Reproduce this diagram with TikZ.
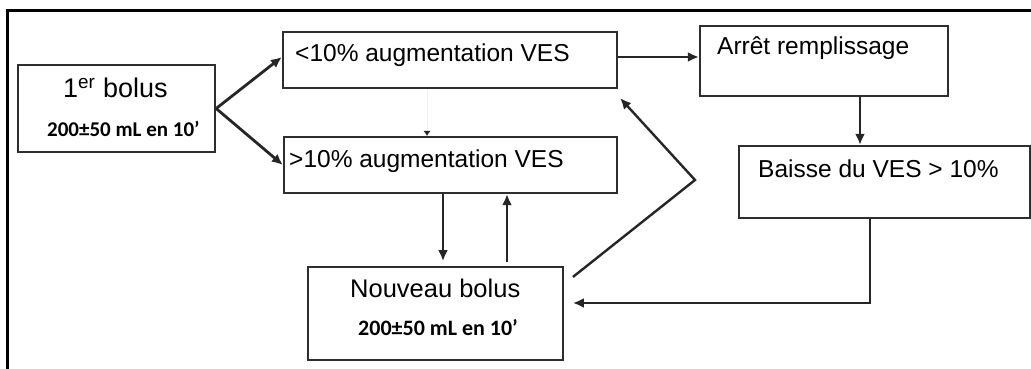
\documentclass[tikz,border=0pt]{standalone}
\usepackage{fontspec}
\setmainfont{Liberation Sans}
\newfontfamily\carl{Carlito}
\usetikzlibrary{arrows.meta}
\definecolor{boxc}{HTML}{2E2E2E}
\definecolor{arrc}{HTML}{262626}
\begin{document}
\begin{tikzpicture}[x=1pt,y=-1pt,
  box/.style={draw=boxc, line width=2.3pt, inner sep=0pt},
  txt/.style={anchor=base west, inner sep=0pt, text=black, font=\fontsize{24.5}{28}\selectfont},
  small/.style={anchor=base west, inner sep=0pt, text=black, font=\carl\bfseries\fontsize{21}{24}\selectfont},
  arr/.style={draw=arrc, line width=2.8pt, -{Latex[length=11pt,width=10pt]}}]
\useasboundingbox (0,0) rectangle (1031,369);
\draw[line width=3pt] (7.5,369) -- (7.5,10.5) -- (1031,10.5);
% boxes
\node[box, minimum width=197pt, minimum height=87pt] (b1) at (116.5,108.5) {};
\node[box, minimum width=334pt, minimum height=56pt] (lt) at (450,60) {};
\node[box, minimum width=333pt, minimum height=56pt] (gt) at (450.5,165) {};
\node[box, minimum width=248pt, minimum height=70pt] (ar) at (824,61) {};
\node[box, minimum width=291pt, minimum height=72pt] (ba) at (884.5,182) {};
\node[box, line width=1.8pt, minimum width=255pt, minimum height=93pt] (nb) at (435.5,313.5) {};
% texts
\node[txt, font=\fontsize{27}{30}\selectfont] (t1) at (63,98) {1\textsuperscript{er} bolus};
\node[small] (t1b) at (47,136) {200±50 mL en 10’};
\node[txt] (tlt) at (295,62) {<10\% augmentation VES};
\node[txt] (tgt) at (289,167) {>10\% augmentation VES};
\node[txt] (tar) at (717,55) {Arrêt remplissage};
\node[txt] (tba) at (758,177) {Baisse du VES > 10\%};
\node[txt, font=\fontsize{25.5}{28}\selectfont] (tnb) at (350,297) {Nouveau bolus};
\node[small, font=\carl\bfseries\fontsize{22}{24}\selectfont] (tnbb) at (358,335) {200±50 mL en 10’};
% connectors
\draw[arr] (b1.east) -- ([yshift=3pt]lt.west);
\draw[arr] (b1.east) -- (gt.west);
\draw[arr] ([yshift=3pt]lt.east) -- ([yshift=4pt]ar.west);
\draw[arr] ([xshift=36pt]ar.south) -- ([xshift=-24.5pt]ba.north);
\draw[arr] ([xshift=-14.5pt]ba.south) |- ([xshift=9pt,yshift=10.5pt]nb.east);
\draw[arr] ([xshift=-7.5pt]gt.south) -- ([xshift=7.5pt,yshift=5pt]nb.north);
\draw[arr] ([xshift=71.5pt,yshift=4pt]nb.north) -- ([xshift=56.5pt]gt.south);
\coordinate (bend) at (695,180);
\draw[arr, line width=2.4pt] ([xshift=9pt,yshift=36.5pt]nb.east) -- (bend) -- ([xshift=2pt,yshift=-9pt]lt.south east);
\draw[draw=black!6, line width=0.4pt, -{Latex[length=5pt,width=7pt,color=arrc]}] ([xshift=-23pt]lt.south) -- ([xshift=-23.5pt]gt.north);
\end{tikzpicture}
\end{document}
